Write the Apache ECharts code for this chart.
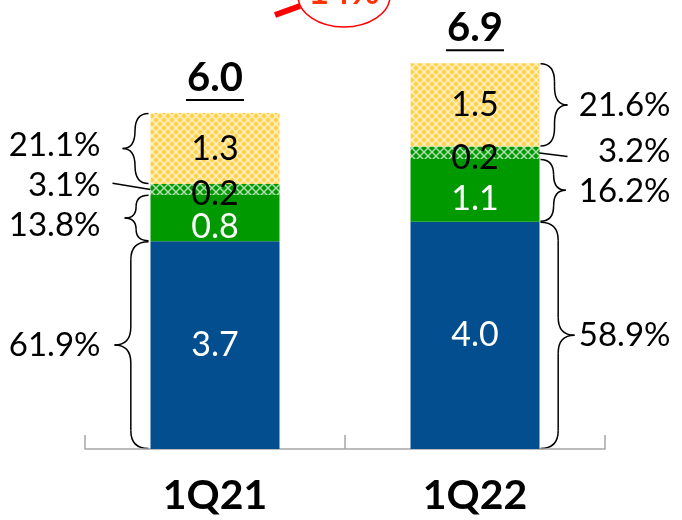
<!DOCTYPE html>
<html>
<head>
<meta charset="utf-8">
<script src="https://cdn.jsdelivr.net/npm/echarts@6/dist/echarts.min.js"></script>
<style>
  html, body { margin: 0; padding: 0; background: #fff; }
  #main { width: 682px; height: 520px; }
</style>
</head>
<body>
<div id="main"></div>
<script>
// values (share x total)
var categories = ['1Q21', '1Q22'];
var blueValues = [3.71, 4.06];
var greenValues = [0.83, 1.12];
var hatchValues = [0.19, 0.22];
var yellowValues = [1.27, 1.49];

var blueLabels = ['3.7', '4.0'];
var greenLabels = ['0.8', '1.1'];
var hatchLabels = ['0.2', '0.2'];
var yellowLabels = ['1.3', '1.5'];
var totalLabels = ['6.0', '6.9'];

// shares, bottom to top: blue, green, hatched, yellow
var shares1Q21 = ['61.9%', '13.8%', '3.1%', '21.1%'];
var shares1Q22 = ['58.9%', '16.2%', '3.2%', '21.6%'];
var growthLabel = '14%';

var FONT = 'Lato, "Open Sans", sans-serif';
var BAR_W = 129;

function hatch(base) {
  var n = 8;
  var c = document.createElement('canvas');
  c.width = n; c.height = n;
  var g = c.getContext('2d');
  g.fillStyle = base;
  g.fillRect(0, 0, n, n);
  g.strokeStyle = 'rgba(255,255,255,0.7)';
  g.lineWidth = 1.4;
  g.beginPath();
  g.moveTo(0, 0); g.lineTo(n, n);
  g.moveTo(n, 0); g.lineTo(0, n);
  g.stroke();
  return { image: c, repeat: 'repeat' };
}

function seg(name, values, labels, color, textColor, dy) {
  return {
    name: name,
    type: 'bar',
    stack: 'total',
    barWidth: BAR_W,
    data: values,
    itemStyle: { color: color },
    label: {
      show: true,
      position: 'inside',
      offset: [0, dy],
      color: textColor,
      fontSize: 34,
      fontFamily: FONT,
      formatter: function (p) { return labels[p.dataIndex]; }
    },
    silent: true
  };
}

var chart = echarts.init(document.getElementById('main'));
chart.setOption({
  animation: false,
  grid: { left: 85, right: 77, top: 57, bottom: 71 },
  xAxis: {
    type: 'category',
    data: categories,
    axisLine: { lineStyle: { color: '#a6a6a6', width: 1.5 } },
    axisTick: { show: true, inside: true, length: 14, lineStyle: { color: '#a6a6a6', width: 1.5 } },
    axisLabel: { margin: 26, color: '#000', fontSize: 41, fontWeight: 'bold', fontFamily: FONT }
  },
  yAxis: { type: 'value', min: 0, max: 7, show: false },
  series: [
    seg('blue', blueValues, blueLabels, '#034e8e', '#fff', 0),
    seg('green', greenValues, greenLabels, '#009900', '#fff', 9),
    seg('hatch', hatchValues, hatchLabels, hatch('#009900'), '#000', 5),
    seg('yellow', yellowValues, yellowLabels, hatch('#ffd24d'), '#000', 0)
  ]
});

function px(i, v) { return chart.convertToPixel({ gridIndex: 0 }, [i, v]); }

var els = [];
function st(w) { return { stroke: '#000', lineWidth: w || 1.5, fill: null }; }
function line(x1, y1, x2, y2, style) {
  els.push({ type: 'line', silent: true, shape: { x1: x1, y1: y1, x2: x2, y2: y2 }, style: style || st() });
}
function curve(x1, y1, cx, cy, x2, y2) {
  els.push({ type: 'bezierCurve', silent: true, shape: { x1: x1, y1: y1, cpx1: cx, cpy1: cy, x2: x2, y2: y2 }, style: st() });
}
function brace(xe, yTop, yBot, dir, depth) {
  var h = yBot - yTop, r = Math.min(18, h / 4);
  var xm = xe + dir * depth * 0.52, xt = xe + dir * depth, ym = (yTop + yBot) / 2;
  curve(xe, yTop, xm, yTop, xm, yTop + r);
  line(xm, yTop + r, xm, ym - r);
  curve(xm, ym - r, xm, ym, xt, ym);
  curve(xt, ym, xm, ym, xm, ym + r);
  line(xm, ym + r, xm, yBot - r);
  curve(xm, yBot - r, xm, yBot, xe, yBot);
}
function text(x, y, s, size, align, weight, color) {
  els.push({
    type: 'text', silent: true, x: x, y: y,
    style: { text: s, fontSize: size, fontFamily: FONT, fontWeight: weight || 'normal',
      fill: color || '#000', align: align, verticalAlign: 'middle' }
  });
}
function spread(ys, gap) {
  var out = ys.slice();
  for (var k = 0; k < 20; k++) {
    for (var j = 0; j < out.length - 1; j++) {
      // out runs bottom-up: out[j] > out[j+1]
      var d = out[j] - out[j + 1];
      if (d < gap) { out[j] += (gap - d) / 2; out[j + 1] -= (gap - d) / 2; }
    }
  }
  return out;
}

var stacks = [blueValues, greenValues, hatchValues, yellowValues];
var sharesAll = [shares1Q21, shares1Q22];
categories.forEach(function (c, i) {
  var cx = px(i, 0)[0];
  var left = cx - BAR_W / 2, right = cx + BAR_W / 2;
  var lv = [0];
  stacks.forEach(function (arr, k) { lv.push(lv[k] + arr[i]); });
  var ys = lv.map(function (v) { return px(i, v)[1]; });
  var mids = [0, 1, 2, 3].map(function (k) { return (ys[k] + ys[k + 1]) / 2; });
  var ly = spread(mids, 40);
  var dir = i === 0 ? -1 : 1;
  var edge = i === 0 ? left - 2 : right + 1;
  [0, 1, 3].forEach(function (k) {
    var depth = Math.min(34, 20 + (ys[k] - ys[k + 1]) / 12);
    brace(edge, ys[k + 1] + 0.5, ys[k] - 0.5, dir, depth);
  });
  for (var k = 0; k < 4; k++) {
    if (i === 0) text(left - 50, ly[k], sharesAll[i][k], 33, 'right');
    else text(right + 131, ly[k], sharesAll[i][k], 33, 'right');
  }
  if (i === 0) line(left - 38, ly[2] - 2, left, mids[2]);
  else line(right - 2, mids[2], right + 28, ly[2] + 5);

  var top = ys[4];
  text(cx, top - 35, totalLabels[i], 40, 'center', 'bold');
  line(cx - 29, top - 13, cx + 29, top - 13, st(2));
});

// growth callout at the top edge
els.push({ type: 'line', silent: true, shape: { x1: 275, y1: 15, x2: 300, y2: 6 },
  style: { stroke: '#ff0000', lineWidth: 6 } });
els.push({ type: 'ellipse', silent: true, shape: { cx: 344, cy: -4, rx: 46, ry: 31 },
  style: { stroke: '#ff0000', lineWidth: 1.5, fill: '#fff' } });
text(344, -8, growthLabel, 36, 'center', 'bold', '#ff3300');

chart.setOption({ graphic: els });
</script>
</body>
</html>
